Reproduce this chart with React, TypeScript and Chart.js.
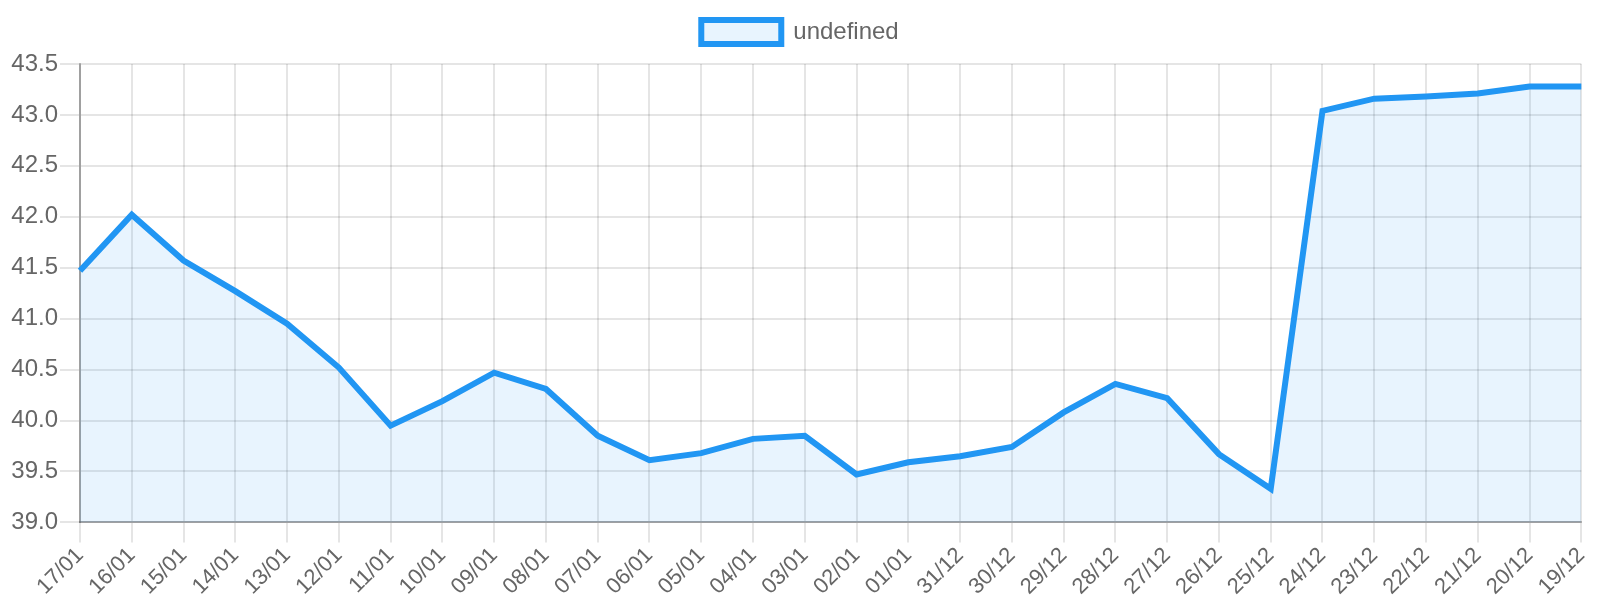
import { useEffect, useRef } from "react";
import Chart from "chart.js/auto";

// dates are listed newest first, as in the source chart
const labels = [
  "17/01", "16/01", "15/01", "14/01", "13/01", "12/01", "11/01", "10/01",
  "09/01", "08/01", "07/01", "06/01", "05/01", "04/01", "03/01", "02/01",
  "01/01", "31/12", "30/12", "29/12", "28/12", "27/12", "26/12", "25/12",
  "24/12", "23/12", "22/12", "21/12", "20/12", "19/12",
];

const values = [
  41.47, 42.02, 41.57, 41.27, 40.95, 40.52, 39.95, 40.19,
  40.47, 40.31, 39.85, 39.61, 39.68, 39.82, 39.85, 39.47,
  39.59, 39.65, 39.74, 40.08, 40.36, 40.22, 39.67, 39.33,
  43.04, 43.16, 43.18, 43.21, 43.28, 43.28,
];

const yMin = 39.0;
const yMax = 43.5;
const yStep = 0.5;

const FONT_FAMILY = "'Liberation Sans', Arial, sans-serif";

// pushes the plot a bit further below the legend
const legendGap = {
  id: "legendGap",
  beforeInit(chart: any) {
    const legend = chart.legend;
    if (!legend) return;
    const fit = legend.fit;
    legend.fit = function () {
      fit.call(this);
      this.height += 10;
    };
  },
};

export default function App() {
  const canvasRef = useRef<HTMLCanvasElement | null>(null);
  const chartRef = useRef<Chart | null>(null);

  useEffect(() => {
    const canvas = canvasRef.current;
    if (!canvas) return;
    if (chartRef.current) chartRef.current.destroy();

    chartRef.current = new Chart(canvas, {
      type: "line",
      data: {
        labels,
        datasets: [
          {
            label: "undefined",
            data: values,
            borderColor: "#2196F3",
            backgroundColor: "rgba(33, 150, 243, 0.1)",
            borderWidth: 6,
            pointRadius: 0,
            tension: 0,
            fill: true,
          },
        ],
      },
      options: {
        animation: false,
        responsive: true,
        maintainAspectRatio: false,
        devicePixelRatio: 1,
        plugins: {
          legend: {
            position: "top",
            labels: {
              font: { family: FONT_FAMILY, size: 24 },
              color: "#666",
              boxWidth: 80,
              padding: 20,
            },
          },
          tooltip: { enabled: false },
        },
        scales: {
          x: {
            grid: { color: "rgba(0,0,0,0.1)", lineWidth: 2, tickLength: 20 },
            border: { color: "rgba(0,0,0,0.3)", width: 2 },
            ticks: {
              font: { family: FONT_FAMILY, size: 22 },
              color: "#666",
              maxRotation: 45,
              minRotation: 45,
              autoSkip: false,
              padding: 0,
            },
          },
          y: {
            min: yMin,
            max: yMax,
            afterFit: (scale: any) => {
              scale.width = 80;
            },
            grid: { color: "rgba(0,0,0,0.1)", lineWidth: 2, tickLength: 20 },
            border: { color: "rgba(0,0,0,0.3)", width: 2 },
            ticks: {
              font: { family: FONT_FAMILY, size: 24 },
              color: "#666",
              stepSize: yStep,
              padding: 2,
              callback: (v) => Number(v).toFixed(1),
            },
          },
        },
      },
      plugins: [legendGap],
    });

    return () => {
      chartRef.current?.destroy();
      chartRef.current = null;
    };
  }, []);

  return (
    <div style={{ position: "absolute", left: 0, top: 0, width: 1600, height: 600 }}>
      <canvas ref={canvasRef}></canvas>
    </div>
  );
}
